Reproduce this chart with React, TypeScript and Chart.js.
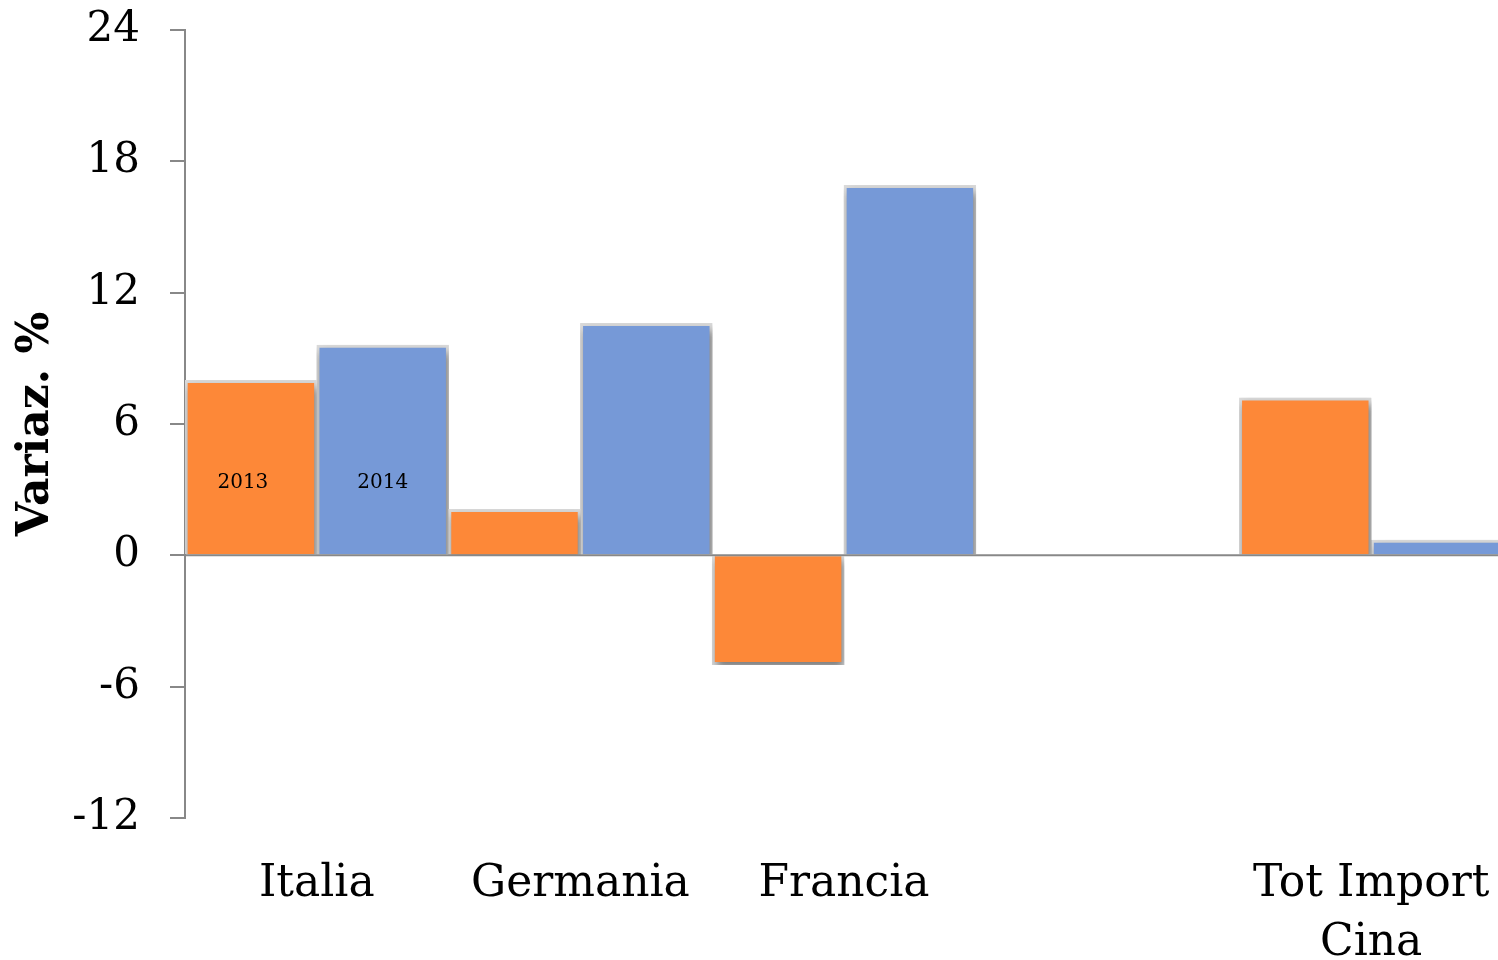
import React, { useEffect, useRef } from "react";
import { Chart, registerables } from "chart.js";

Chart.register(...registerables);

const categories: (string | string[])[] = ["Italia", "Germania", "Francia", "", ["Tot Import", "Cina"]];
const seriesNames = ["2013", "2014"];
const values2013 = [8.0, 2.1, -5.0, null, 7.2];
const values2014 = [9.6, 10.6, 16.9, null, 0.7];
const yMin = -12;
const yMax = 24;
const yStep = 6;
const seriesLabelValue = 3.3;

const ORANGE = "#FD8838";
const BLUE = "#7699D7";
const SERIF = "'DejaVu Serif', serif";

const shadowPlugin = {
  id: "barShadow",
  beforeDatasetsDraw(chart: any) {
    const ctx = chart.ctx;
    ctx.save();
    ctx.shadowColor = "rgba(0,0,0,0.45)";
    ctx.shadowBlur = 8;
    ctx.shadowOffsetX = 2;
    ctx.shadowOffsetY = 5;
  },
  afterDatasetsDraw(chart: any) {
    const ctx = chart.ctx;
    ctx.restore();
    const { left, right } = chart.chartArea;
    const y0 = chart.scales.y.getPixelForValue(0);
    ctx.save();
    ctx.strokeStyle = "#888888";
    ctx.lineWidth = 2;
    ctx.beginPath();
    ctx.moveTo(left, y0);
    ctx.lineTo(right, y0);
    ctx.stroke();
    // series name labels inside the first category's bars
    ctx.fillStyle = "#000";
    ctx.font = `20px ${SERIF}`;
    ctx.textAlign = "center";
    ctx.textBaseline = "middle";
    const ly = chart.scales.y.getPixelForValue(seriesLabelValue);
    chart.data.datasets.forEach((ds: any, i: number) => {
      const meta = chart.getDatasetMeta(i);
      const bar = meta.data[0];
      if (bar) ctx.fillText(ds.label, bar.x - (i === 0 ? 8 : 0), ly);
    });
    ctx.restore();
  },
};

export default function App() {
  const ref = useRef<HTMLCanvasElement | null>(null);
  useEffect(() => {
    if (!ref.current) return;
    const chart = new Chart(ref.current, {
      type: "bar",
      data: {
        labels: categories as any,
        datasets: [
          {
            label: seriesNames[0],
            data: values2013 as any,
            backgroundColor: ORANGE,
            borderColor: "#dadada",
            borderWidth: 3,
          },
          {
            label: seriesNames[1],
            data: values2014 as any,
            backgroundColor: BLUE,
            borderColor: "#dadada",
            borderWidth: 3,
          },
        ],
      },
      options: {
        responsive: false,
        animation: false,
        maintainAspectRatio: false,
        layout: { padding: { top: 30, right: 7, bottom: 0, left: 0 } },
        datasets: { bar: { barPercentage: 1, categoryPercentage: 1 } },
        plugins: {
          legend: { display: false },
          tooltip: { enabled: false },
        },
        scales: {
          x: {
            grid: { display: false, drawTicks: false },
            border: { display: false },
            ticks: {
              color: "#000",
              font: { family: SERIF, size: 44, lineHeight: 1.32 },
              padding: 38,
              maxRotation: 0,
              autoSkip: false,
            },
            afterFit(scale: any) {
              scale.height = 142;
              scale.paddingLeft = 0;
              scale.paddingRight = 0;
            },
          },
          y: {
            min: yMin,
            max: yMax,
            grid: {
              drawOnChartArea: false,
              drawTicks: true,
              tickLength: 15,
              tickColor: "#888888",
              lineWidth: 2,
            },
            border: { display: true, color: "#888888", width: 2 },
            ticks: {
              stepSize: yStep,
              color: "#000",
              font: { family: SERIF, size: 42 },
              padding: 30,
              callback: (v: any) => String(v),
            },
            title: {
              display: true,
              text: "Variaz. %",
              color: "#000",
              font: { family: SERIF, size: 44, weight: "bold", lineHeight: 1.2 },
              padding: { top: 10, bottom: 0 },
            },
            afterFit(scale: any) {
              scale.width = 185;
              scale.paddingTop = 0;
              scale.paddingBottom = 0;
            },
          },
        },
      },
      plugins: [shadowPlugin],
    });
    return () => chart.destroy();
  }, []);

  return (
    <div style={{ position: "absolute", left: 0, top: 0, width: 1498, height: 960, overflow: "hidden", background: "#fff" }}>
      <canvas ref={ref} width={1510} height={960} style={{ display: "block" }} />
    </div>
  );
}
